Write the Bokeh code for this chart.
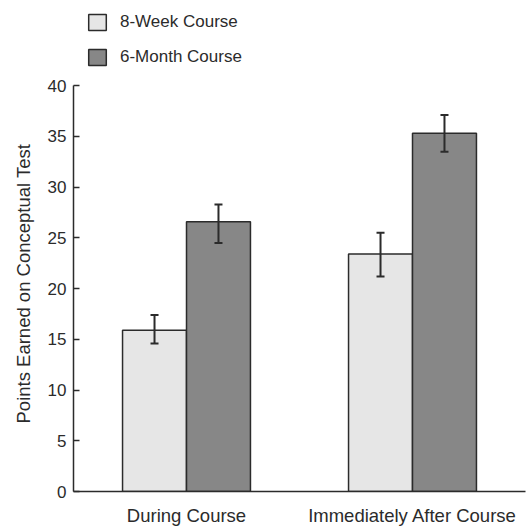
from bokeh.plotting import figure
from bokeh.models import (ColumnDataSource, FactorRange, Range1d, Whisker, TeeHead,
                          Legend, LegendItem, FixedTicker, Title)
from bokeh.transform import dodge
from bokeh.embed import file_html
from bokeh.resources import INLINE

categories = ["During Course", "Immediately After Course"]
week8_mean = [15.9, 23.4]
week8_lower = [14.6, 21.2]
week8_upper = [17.4, 25.5]
month6_mean = [26.6, 35.3]
month6_lower = [24.5, 33.5]
month6_upper = [28.3, 37.1]
y_ticks = [0, 5, 10, 15, 20, 25, 30, 35, 40]
series_names = ["8-Week Course", "6-Month Course"]
y_title = "Points Earned on Conceptual Test"

FONT = "Liberation Sans"
TXT = "#2b2b2b"
LINE = "#2b2b2b"

src = ColumnDataSource(dict(cat=categories,
                            w8=week8_mean, w8lo=week8_lower, w8hi=week8_upper,
                            m6=month6_mean, m6lo=month6_lower, m6hi=month6_upper))

# the frame reaches the top of the picture so the legend sits inside it;
# the y axis itself is bounded to 0..40
p = figure(width=527, height=528, output_backend="svg", toolbar_location=None,
           x_range=FactorRange(*categories, range_padding=0),
           y_range=Range1d(0, 48.2),
           min_border_left=73, min_border_right=2, min_border_top=2, min_border_bottom=37)
p.outline_line_color = None
p.grid.visible = False

bw = 0.283
off = bw / 2
r1 = p.vbar(x=dodge("cat", -off, range=p.x_range), top="w8", width=bw, source=src,
            fill_color="#e6e6e6", line_color=LINE, line_width=1.5)
r2 = p.vbar(x=dodge("cat", off, range=p.x_range), top="m6", width=bw, source=src,
            fill_color="#878787", line_color=LINE, line_width=1.5)

for xo, lo, hi in [(-off, "w8lo", "w8hi"), (off, "m6lo", "m6hi")]:
    w = Whisker(base=dodge("cat", xo, range=p.x_range), lower=lo, upper=hi, source=src,
                line_color=LINE, line_width=2, level="overlay",
                upper_head=TeeHead(size=8, line_color=LINE, line_width=2),
                lower_head=TeeHead(size=8, line_color=LINE, line_width=2))
    p.add_layout(w)

# y axis
ya = p.yaxis[0]
ya.bounds = (0, 40)
ya.ticker = FixedTicker(ticks=y_ticks)
ya.major_tick_in = 6
ya.major_tick_out = 0
ya.minor_tick_line_color = None
ya.axis_line_color = LINE
ya.axis_line_width = 1.5
ya.major_tick_line_color = LINE
ya.major_tick_line_width = 1.5
ya.major_label_text_font = FONT
ya.major_label_text_font_size = "17px"
ya.major_label_text_color = TXT
ya.major_label_standoff = 7

# y title, placed along the 0..40 part of the axis
t = Title(text=y_title, align="left", offset=68, standoff=21,
          text_font=FONT, text_font_size="18.5px", text_font_style="normal",
          text_color=TXT)
p.add_layout(t, "left")

# x axis
xa = p.xaxis[0]
xa.major_tick_in = 0
xa.major_tick_out = 0
xa.major_tick_line_color = None
xa.minor_tick_line_color = None
xa.axis_line_color = LINE
xa.axis_line_width = 1.5
xa.major_label_text_font = FONT
xa.major_label_text_font_size = "18.5px"
xa.major_label_text_color = TXT
xa.major_label_standoff = 13

legend = Legend(items=[LegendItem(label=series_names[0], renderers=[r1]),
                       LegendItem(label=series_names[1], renderers=[r2])],
                location=(13, 424), orientation="vertical",
                padding=0, margin=0, spacing=15,
                glyph_width=22, glyph_height=20, label_standoff=12,
                label_text_font=FONT, label_text_font_size="17px", label_text_color=TXT,
                border_line_color=None, background_fill_alpha=0)
p.add_layout(legend, "center")

open("out.html", "w").write(file_html(p, INLINE))
